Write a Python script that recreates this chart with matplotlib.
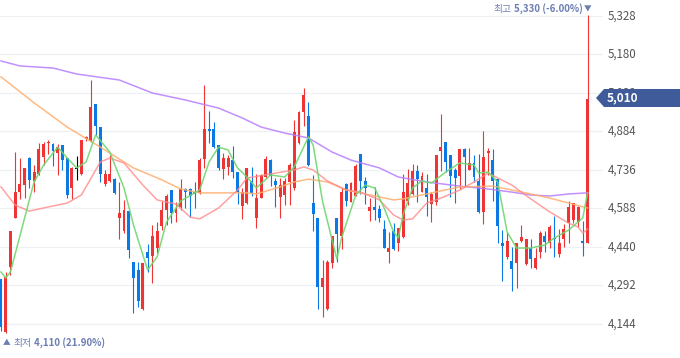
import matplotlib
matplotlib.use("Agg")
import matplotlib.pyplot as plt
from matplotlib import transforms
from matplotlib.patches import Polygon

plt.rcParams["font.family"] = ["Noto Sans CJK KR", "DejaVu Sans"]

# daily candles (oldest -> newest)
opens = [4317, 4112, 4364, 4553, 4653, 4678, 4781, 4694, 4719, 4787,
         4839, 4836, 4803, 4832, 4781, 4666, 4741, 4719, 4854, 4849,
         4989, 4903, 4681, 4694, 4702, 4553, 4503, 4578, 4381, 4352,
         4202, 4420, 4406, 4438, 4522, 4582, 4658, 4572, 4595, 4663,
         4662, 4653, 4646, 4778, 4894, 4894, 4832, 4739, 4749, 4775,
         4730, 4599, 4610, 4694, 4553, 4630, 4709, 4775, 4694, 4632,
         4640, 4691, 4666, 4839, 4960, 4944, 4610, 4550, 4288, 4202,
         4380, 4550, 4484, 4682, 4614, 4637, 4798, 4694, 4580, 4594,
         4586, 4508, 4422, 4503, 4454, 4480, 4617, 4642, 4732, 4653,
         4666, 4604, 4614, 4809, 4842, 4794, 4736, 4714, 4817, 4736,
         4762, 4694, 4573, 4803, 4775, 4702, 4454, 4403, 4386, 4380,
         4464, 4373, 4435, 4358, 4422, 4482, 4454, 4473, 4413, 4470,
         4534, 4544, 4535, 4464, 4454]
highs = [4317, 4345, 4503, 4807, 4781, 4742, 4785, 4755, 4839, 4845,
         4850, 4839, 4835, 4832, 4783, 4746, 4791, 4851, 4867, 5082,
         4989, 4903, 4736, 4794, 4704, 4689, 4621, 4578, 4384, 4384,
         4377, 4450, 4525, 4537, 4617, 4644, 4659, 4614, 4700, 4666,
         4666, 4691, 4781, 5063, 4963, 4922, 4832, 4800, 4794, 4828,
         4730, 4666, 4745, 4749, 4722, 4722, 4791, 4777, 4704, 4704,
         4704, 4762, 4928, 4963, 5053, 4996, 4717, 4550, 4390, 4390,
         4482, 4550, 4666, 4687, 4691, 4758, 4798, 4710, 4627, 4669,
         4601, 4544, 4499, 4531, 4512, 4719, 4739, 4758, 4755, 4727,
         4721, 4653, 4794, 4951, 4845, 4794, 4742, 4817, 4822, 4822,
         4794, 4796, 4886, 4822, 4817, 4702, 4505, 4499, 4441, 4454,
         4525, 4471, 4471, 4435, 4502, 4502, 4525, 4561, 4509, 4528,
         4617, 4610, 4598, 4540, 5330]
lows = [4118, 4110, 4332, 4550, 4625, 4627, 4668, 4653, 4717, 4755,
        4796, 4753, 4717, 4736, 4627, 4625, 4698, 4717, 4848, 4845,
        4871, 4691, 4676, 4691, 4644, 4471, 4493, 4397, 4185, 4211,
        4199, 4343, 4300, 4418, 4505, 4525, 4534, 4537, 4582, 4589,
        4557, 4589, 4642, 4742, 4839, 4822, 4736, 4702, 4717, 4704,
        4605, 4546, 4604, 4637, 4512, 4630, 4707, 4675, 4593, 4550,
        4601, 4601, 4659, 4836, 4906, 4753, 4503, 4202, 4172, 4198,
        4358, 4384, 4432, 4598, 4612, 4637, 4644, 4604, 4541, 4544,
        4537, 4435, 4377, 4429, 4426, 4476, 4601, 4640, 4612, 4650,
        4561, 4537, 4601, 4732, 4730, 4634, 4608, 4663, 4672, 4736,
        4691, 4569, 4527, 4717, 4617, 4457, 4311, 4393, 4271, 4281,
        4458, 4371, 4361, 4356, 4397, 4422, 4435, 4400, 4403, 4439,
        4454, 4531, 4518, 4407, 4454]
closes = [4134, 4326, 4503, 4653, 4681, 4742, 4698, 4730, 4817, 4835,
          4842, 4810, 4826, 4775, 4640, 4742, 4741, 4851, 4864, 4980,
          4906, 4719, 4719, 4722, 4648, 4571, 4582, 4430, 4322, 4233,
          4377, 4399, 4482, 4503, 4582, 4637, 4572, 4585, 4662, 4653,
          4637, 4645, 4775, 4894, 4887, 4826, 4745, 4781, 4783, 4730,
          4653, 4653, 4742, 4649, 4627, 4717, 4778, 4713, 4678, 4678,
          4694, 4755, 4883, 4960, 5024, 4755, 4566, 4288, 4320, 4381,
          4482, 4489, 4653, 4618, 4687, 4753, 4695, 4668, 4594, 4582,
          4550, 4438, 4435, 4432, 4512, 4653, 4687, 4732, 4702, 4713,
          4634, 4644, 4794, 4826, 4768, 4714, 4704, 4817, 4787, 4762,
          4710, 4576, 4787, 4809, 4694, 4522, 4445, 4463, 4354, 4454,
          4477, 4471, 4393, 4399, 4493, 4458, 4516, 4470, 4457, 4508,
          4595, 4610, 4595, 4454, 5010]

# moving averages (candle index, price)
ma5_idx = [0, 1, 2, 5, 7, 9, 12, 14, 16, 18, 20, 23, 26, 28, 31, 33, 35, 38, 42,
           44, 46, 48, 50, 52, 54, 57, 60, 62, 65, 66, 68, 71, 72, 75, 77, 79, 81,
           83, 84, 85, 87, 89, 91, 94, 97, 100, 101, 103, 105, 107, 109, 112, 115,
           117, 120, 123, 124]
ma5_val = [4344, 4321, 4344, 4552, 4690, 4755, 4824, 4782, 4744, 4767, 4871, 4805,
           4667, 4525, 4352, 4402, 4536, 4617, 4659, 4767, 4824, 4813, 4744, 4709,
           4667, 4717, 4709, 4748, 4863, 4832, 4613, 4394, 4475, 4640, 4678, 4667,
           4590, 4498, 4475, 4563, 4667, 4694, 4686, 4728, 4763, 4755, 4724, 4728,
           4690, 4498, 4436, 4436, 4448, 4475, 4505, 4552, 4648]
ma20_idx = [0, 3, 6, 10, 14, 17, 21, 23, 26, 30, 33, 37, 40, 42, 46, 50, 52, 57, 62,
            64, 66, 69, 73, 76, 80, 83, 85, 87, 90, 93, 97, 100, 103, 108, 112, 116,
            120, 122, 123, 124]
ma20_val = [4671, 4601, 4578, 4594, 4609, 4640, 4767, 4782, 4763, 4678, 4621, 4605,
            4555, 4548, 4590, 4659, 4705, 4721, 4736, 4748, 4736, 4694, 4659, 4651,
            4621, 4563, 4544, 4548, 4609, 4628, 4659, 4690, 4724, 4678, 4625, 4575,
            4532, 4517, 4494, 4509]
ma60_idx = [0, 7, 14, 21, 28, 34, 38, 42, 52, 54, 59, 62, 65, 69, 73, 78, 83, 85, 90,
            97, 104, 108, 112, 116, 120, 124]
ma60_val = [5094, 4994, 4901, 4824, 4744, 4698, 4663, 4648, 4648, 4644, 4671, 4690,
            4701, 4690, 4659, 4640, 4621, 4625, 4644, 4671, 4674, 4659, 4644, 4628,
            4609, 4590]
ma120_idx = [0, 4, 11, 16, 25, 32, 39, 46, 51, 55, 60, 65, 70, 74, 80, 84, 90, 97,
             103, 108, 112, 116, 120, 124]
ma120_val = [5155, 5136, 5128, 5105, 5082, 5032, 5005, 4974, 4936, 4901, 4878, 4859,
             4805, 4774, 4744, 4709, 4690, 4674, 4663, 4651, 4640, 4636, 4644, 4648]

price_ticks = [5328, 5180, 5032, 4884, 4736, 4588, 4440, 4292, 4144]
last_price = 5010
high_label = ("최고", "5,330 (-6.00%)")
low_label = ("최저", "4,110 (21.90%)")

RED = "#ee3434"
BLUE = "#0b78e3"
LABEL = "#6c7fb3"

W, H = 680, 358
fig = plt.figure(figsize=(W / 100, H / 100), dpi=100)
fig.patch.set_facecolor("white")
ax = fig.add_axes([0, 0, 603 / W, 1])
ax.set_xlim(-0.21, 127.27)
ax.set_ylim(4013.3, 5389.5)
ax.axis("off")

for v in price_ticks:
    ax.axhline(v, color="#eef0f4", lw=0.9, zorder=0)

for i, (o, h, l, c) in enumerate(zip(opens, highs, lows, closes)):
    col = RED if c > o else BLUE if c < o else "black"
    ax.vlines(i, l, h, color=col, lw=0.8, zorder=2)
    ax.bar(i, max(abs(c - o), 3), bottom=min(o, c), width=0.62,
           color=col, linewidth=0, zorder=2)

ax.plot(ma120_idx, ma120_val, color="#b77dff", lw=1.1, alpha=0.85, zorder=3)
ax.plot(ma60_idx, ma60_val, color="#ffae6e", lw=1.1, alpha=0.85, zorder=3)
ax.plot(ma20_idx, ma20_val, color="#ff8a8a", lw=1.1, alpha=0.8, zorder=3)
ax.plot(ma5_idx, ma5_val, color="#6fd66f", lw=1.1, alpha=0.9, zorder=3)

# price axis labels on the right (5,032 sits under the current-price tag)
trans = transforms.blended_transform_factory(fig.transFigure, ax.transData)
for v in price_ticks:
    ax.text(608 / W, v, f"{v:,}", transform=trans, ha="left", va="center",
            fontsize=8.3, color="#555555", clip_on=False)

# current price tag
ytag = 1 - 98 / H
tag = Polygon([(596 / W, ytag), (604 / W, 1 - 89 / H), (1.0, 1 - 89 / H),
               (1.0, 1 - 107 / H), (604 / W, 1 - 107 / H)],
              closed=True, transform=fig.transFigure, facecolor="#3f5b9a",
              edgecolor="none", zorder=5)
fig.add_artist(tag)
fig.text(607 / W, ytag, f"{last_price:,}", ha="left", va="center",
         fontsize=8.5, color="white", fontweight="bold", zorder=6)

# high marker: text ends just left of the down arrow over the last candle
hi_val = fig.text(583 / W, 1 - 9 / H, high_label[1], ha="right", va="center",
                  fontsize=7, color=LABEL, fontweight="bold")
fig.add_artist(plt.Annotation(high_label[0], xy=(0, 0.5), xycoords=hi_val,
                              xytext=(-2, 0), textcoords="offset points",
                              ha="right", va="center", fontsize=7, color=LABEL))
fig.text(588 / W, 1 - 9 / H, "▼", ha="center", va="center",
         fontsize=5.5, color=LABEL)

# low marker under the lowest candle
lo_arrow = fig.text(3 / W, 1 - 343 / H, "▲", ha="left", va="center",
                    fontsize=5.5, color=LABEL)
lo_word = plt.Annotation(low_label[0], xy=(1, 0.5), xycoords=lo_arrow,
                         xytext=(2, 0), textcoords="offset points",
                         ha="left", va="center", fontsize=7, color=LABEL)
fig.add_artist(lo_word)
fig.add_artist(plt.Annotation(low_label[1], xy=(1, 0.5), xycoords=lo_word,
                              xytext=(2, 0), textcoords="offset points",
                              ha="left", va="center", fontsize=7, color=LABEL,
                              fontweight="bold"))

fig.savefig("out.png", dpi=100)
